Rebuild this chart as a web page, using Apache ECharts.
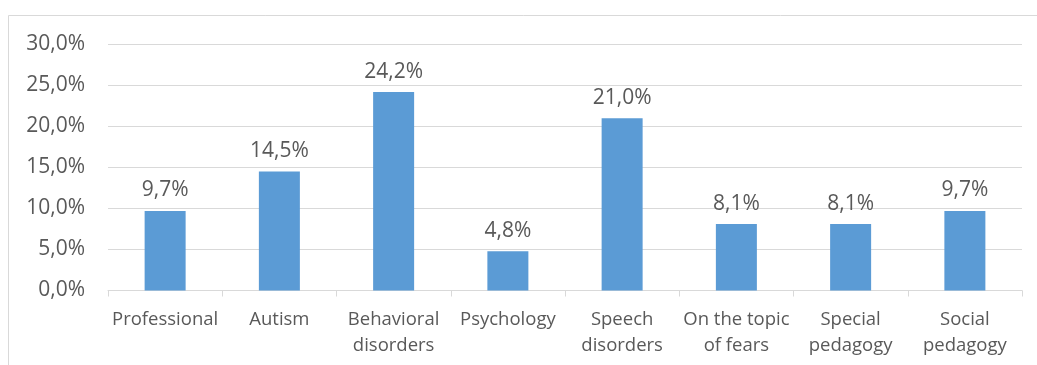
<!DOCTYPE html>
<html><head><meta charset="utf-8">
<script src="https://cdn.jsdelivr.net/npm/echarts@6/dist/echarts.min.js"></script>
<style>html,body{margin:0;padding:0;background:#fff}#c{width:1037px;height:365px}</style>
</head><body><div id="c"></div>
<script>
const categories = ['Professional','Autism','Behavioral\ndisorders','Psychology','Speech\ndisorders','On the topic\nof fears','Special\npedagogy','Social\npedagogy'];
const values = [9.7, 14.5, 24.2, 4.8, 21.0, 8.1, 8.1, 9.7];
const yTicks = {min: 0, max: 30, interval: 5};
const fmt = v => v.toFixed(1).replace('.', ',') + '%';
const FONT = '"Open Sans", sans-serif';
const chart = echarts.init(document.getElementById('c'), null, {renderer: 'canvas'});
chart.setOption({
  animation: false,
  backgroundColor: '#fff',
  grid: {left: 108, right: 15, top: 44.5, bottom: 74.5, containLabel: false},
  graphic: [
    {type: 'line', shape: {x1: 8.5, y1: 15.5, x2: 1040, y2: 15.5}, style: {stroke: '#d9d9d9', lineWidth: 1}},
    {type: 'line', shape: {x1: 8.5, y1: 15.5, x2: 8.5, y2: 370}, style: {stroke: '#d9d9d9', lineWidth: 1}}
  ],
  xAxis: {
    type: 'category', data: categories,
    axisLine: {lineStyle: {color: '#d9d9d9', width: 1}},
    axisTick: {show: true, length: 6, lineStyle: {color: '#d9d9d9'}},
    axisLabel: {color: '#595959', fontFamily: FONT, fontSize: 18.5, lineHeight: 26, margin: 16, interval: 0}
  },
  yAxis: {
    type: 'value', min: yTicks.min, max: yTicks.max, interval: yTicks.interval,
    axisLine: {show: false}, axisTick: {show: false},
    splitLine: {lineStyle: {color: '#d9d9d9', width: 1}},
    axisLabel: {color: '#595959', fontFamily: FONT, fontSize: 21, margin: 23, formatter: v => fmt(v)}
  },
  series: [{
    type: 'bar', data: values, barWidth: 41,
    itemStyle: {color: '#5b9bd5'},
    label: {show: true, position: 'top', distance: 10, color: '#595959', fontFamily: FONT, fontSize: 21, formatter: p => fmt(p.value)}
  }]
});
</script></body></html>
